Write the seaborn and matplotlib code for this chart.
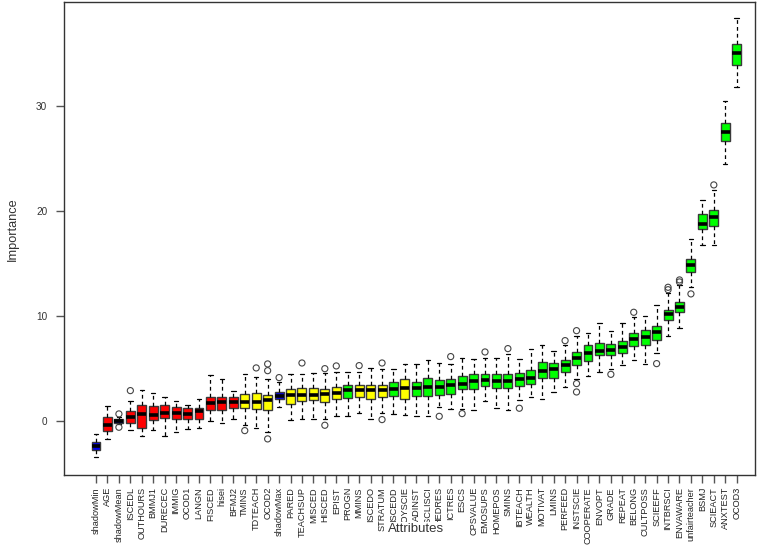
import numpy as np
import pandas as pd
import matplotlib
matplotlib.use("Agg")
import matplotlib.pyplot as plt
import seaborn as sns

# ---------------- data ----------------
attributes = ["shadowMin", "AGE", "shadowMean", "ISCEDL", "OUTHOURS", "BMMJ1", "DURECEC",
              "IMMIG", "OCOD1", "LANGN", "FISCED", "hisei", "BFMJ2", "TMINS", "TDTEACH",
              "OCOD2", "shadowMax", "PARED", "TEACHSUP", "MISCED", "HISCED", "EPIST",
              "PROGN", "MMINS", "ISCEDO", "STRATUM", "ISCEDD", "JOYSCIE", "ADINST",
              "DISCLISCI", "HEDRES", "ICTRES", "ESCS", "CPSVALUE", "EMOSUPS", "HOMEPOS",
              "SMINS", "IBTEACH", "WEALTH", "MOTIVAT", "LMINS", "PERFEED", "INSTSCIE",
              "COOPERATE", "ENVOPT", "GRADE", "REPEAT", "BELONG", "CULTPOSS", "SCIEEFF",
              "INTBRSCI", "ENVAWARE", "unfairteacher", "BSMJ", "SCIEACT", "ANXTEST", "OCOD3"]

decision = ["shadow", "rejected", "shadow", "rejected", "rejected", "rejected", "rejected",
            "rejected", "rejected", "rejected", "rejected", "rejected", "rejected", "tentative",
            "tentative", "tentative", "shadow", "tentative", "tentative", "tentative",
            "tentative", "tentative", "confirmed", "tentative", "tentative", "tentative",
            "confirmed", "tentative"] + ["confirmed"] * 29

whisker_low = [-3.40, -1.68, -0.32, -0.86, -1.40, -0.89, -1.40, -1.02, -0.76, -0.67, -0.03,
               -0.22, 0.19, -0.41, -0.63, -1.02, 1.33, 0.10, 0.16, 0.22, 0.19, 0.48, 0.51,
               0.73, 0.19, 0.73, 0.63, 0.54, 0.48, 0.44, 1.30, 1.11, 1.17, 1.05, 1.94, 1.21,
               1.05, 1.97, 2.32, 2.13, 2.76, 3.27, 3.97, 4.29, 4.67, 4.95, 5.30, 5.81, 5.43,
               6.48, 8.13, 8.89, 12.73, 16.73, 16.73, 24.50, 31.80]
q1 = [-2.79, -0.92, -0.16, -0.16, -0.63, 0.10, 0.32, 0.19, 0.22, 0.16, 1.05, 1.05, 1.21,
      1.27, 1.17, 1.05, 2.06, 1.59, 1.90, 2.00, 1.78, 2.10, 2.22, 2.25, 2.13, 2.32, 2.35,
      2.13, 2.35, 2.38, 2.51, 2.57, 3.05, 3.05, 3.37, 3.17, 3.14, 3.33, 3.52, 4.13, 4.13,
      4.67, 5.33, 5.71, 6.29, 6.25, 6.51, 7.14, 7.24, 7.71, 9.62, 10.38, 14.19, 18.25,
      18.57, 26.67, 33.90]
median = [-2.41, -0.38, 0.03, 0.38, 0.63, 0.57, 0.73, 0.73, 0.63, 0.92, 1.75, 1.78, 1.78,
          1.84, 1.81, 1.97, 2.38, 2.44, 2.44, 2.44, 2.57, 2.63, 2.92, 2.95, 2.95, 2.95, 3.08,
          3.14, 3.17, 3.27, 3.24, 3.40, 3.56, 3.84, 3.87, 3.84, 3.84, 4.00, 4.06, 4.73, 4.92,
          5.30, 5.97, 6.51, 6.70, 6.79, 7.08, 7.81, 7.97, 8.50, 10.16, 10.86, 14.89, 18.79,
          19.43, 27.55, 35.00]
q3 = [-2.03, 0.35, 0.19, 0.98, 1.52, 1.43, 1.52, 1.37, 1.21, 1.27, 2.32, 2.25, 2.25, 2.60,
      2.63, 2.51, 2.79, 3.02, 3.17, 3.11, 3.02, 3.27, 3.40, 3.40, 3.46, 3.46, 3.75, 3.97,
      3.71, 4.06, 3.87, 3.97, 4.32, 4.48, 4.51, 4.51, 4.51, 4.60, 4.89, 5.65, 5.49, 5.78,
      6.57, 7.27, 7.46, 7.33, 7.62, 8.35, 8.63, 9.08, 10.60, 11.33, 15.46, 19.68, 20.10,
      28.40, 35.90]
whisker_high = [-1.24, 1.43, 0.38, 1.90, 2.95, 2.67, 2.32, 1.94, 1.49, 2.13, 4.35, 4.03,
                2.89, 4.51, 4.16, 4.03, 3.71, 4.44, 4.51, 4.54, 4.54, 4.70, 4.70, 4.70, 5.08,
                4.92, 4.98, 5.46, 5.40, 5.81, 5.49, 5.40, 6.03, 5.87, 6.03, 5.97, 6.38, 5.94,
                6.86, 7.21, 6.64, 7.24, 8.13, 8.38, 9.33, 8.60, 9.33, 9.87, 10.03, 11.02,
                12.22, 12.92, 17.36, 21.05, 22.00, 30.50, 38.40]

outlier_attr = ["shadowMean", "shadowMean", "ISCEDL", "TMINS", "TDTEACH", "OCOD2", "OCOD2",
                "OCOD2", "shadowMax", "TEACHSUP", "HISCED", "HISCED", "EPIST", "MMINS",
                "STRATUM", "STRATUM", "HEDRES", "ICTRES", "ESCS", "EMOSUPS", "SMINS",
                "IBTEACH", "PERFEED", "INSTSCIE", "INSTSCIE", "INSTSCIE", "GRADE", "BELONG",
                "SCIEEFF", "INTBRSCI", "INTBRSCI", "ENVAWARE", "ENVAWARE", "unfairteacher",
                "SCIEACT"]
outlier_value = [0.67, -0.60, 2.89, -0.92, 5.05, 5.43, 4.79, -1.71, 4.13, 5.52, 4.98, -0.41,
                 5.24, 5.27, 5.52, 0.13, 0.44, 6.13, 0.70, 6.57, 6.89, 1.21, 7.65, 8.60, 3.56,
                 2.76, 4.44, 10.35, 5.46, 12.73, 12.50, 13.43, 13.24, 12.10, 22.48]

decision_colors = {"shadow": "#0000EE", "rejected": "#FF0000",
                   "tentative": "#FFFF00", "confirmed": "#00FF00"}

# ---------------- build tables ----------------
rows = []
for i, a in enumerate(attributes):
    for v in (whisker_low[i], q1[i], median[i], q3[i], whisker_high[i]):
        rows.append((a, v))
df = pd.DataFrame(rows, columns=["Attributes", "Importance"])
out_df = pd.DataFrame({"Attributes": outlier_attr, "Importance": outlier_value})
palette = {a: decision_colors[d] for a, d in zip(attributes, decision)}

# ---------------- plot ----------------
sns.set_theme(style="white")
plt.rcParams["font.family"] = ["Liberation Sans", "DejaVu Sans"]

fig = plt.figure(figsize=(7.6, 5.48), dpi=100)
ax = fig.add_axes([64 / 760, 1 - 474.5 / 548, (755 - 64) / 760, (474.5 - 2) / 548])

sns.boxplot(data=df, x="Attributes", y="Importance", hue="Attributes", order=attributes,
            hue_order=attributes, palette=palette, saturation=1, legend=False,
            whis=np.inf, width=0.78, showfliers=False, linecolor="#3a3a3a", linewidth=1.0,
            medianprops=dict(color="black", linewidth=2.6),
            whiskerprops=dict(color="black", linestyle=(0, (3, 2.5)), linewidth=0.9),
            capprops=dict(color="black", linewidth=0.9),
            ax=ax)

sns.stripplot(data=out_df, x="Attributes", y="Importance", order=attributes, jitter=False,
              marker="o", size=4.4, color="white", edgecolor="#444444", linewidth=0.8, ax=ax)
for coll in ax.collections:
    coll.set_facecolor("none")
    coll.set_zorder(4)

ax.set_xlim(-2.8, 57.6)
ax.set_ylim(-5.1, 39.9)
ax.set_yticks([0, 10, 20, 30])

for s in ax.spines.values():
    s.set_visible(True)
    s.set_color("#333333")
    s.set_linewidth(1.0)

ax.tick_params(axis="x", which="major", bottom=True, length=6, width=1.0, color="#555555",
               labelsize=6.6, labelrotation=90, pad=3, labelcolor="#222222")
ax.tick_params(axis="y", which="major", left=True, length=6, width=1.0, color="#555555",
               labelsize=7.2, pad=6, labelcolor="#333333")

ax.set_ylabel("Importance", fontsize=9.2, color="#333333")
ax.yaxis.set_label_coords(-0.066, 0.52)
ax.set_xlabel("Attributes", fontsize=9.5, color="#333333",
              bbox=dict(facecolor="white", edgecolor="none", pad=0.5))
ax.xaxis.set_label_coords(0.509, -0.102)
ax.xaxis.label.set_zorder(10)

fig.savefig("out.png", dpi=100)
